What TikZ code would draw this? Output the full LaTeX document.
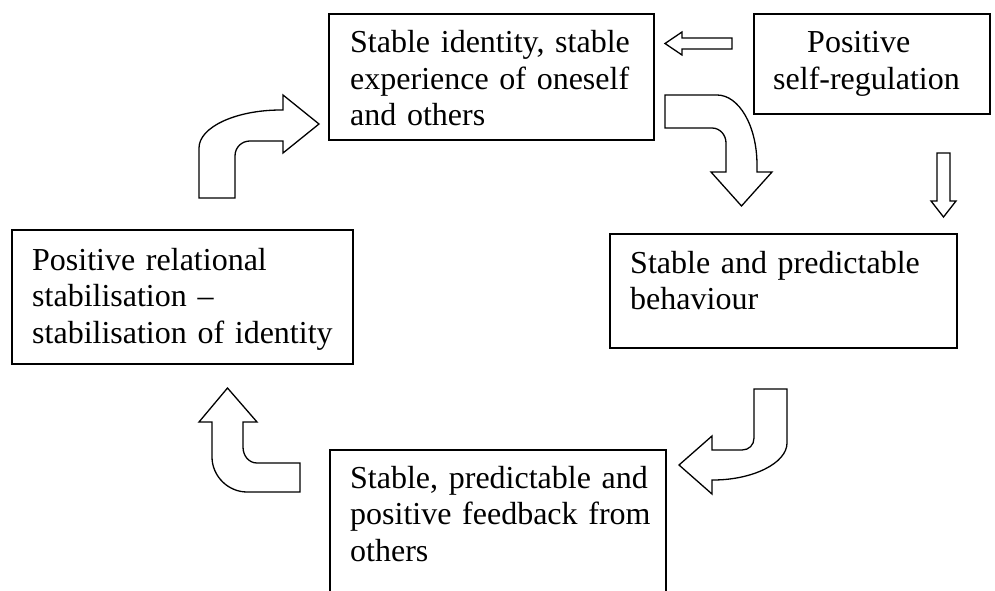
\documentclass[tikz,border=0pt]{standalone}
\usepackage{fontspec}
\setmainfont{Liberation Serif}
\begin{document}
\begin{tikzpicture}[x=1pt,y=-1pt,
  box/.style={draw=black,line width=1.6pt,inner sep=0pt,anchor=north west},
  txt/.style={inner sep=0pt,anchor=base west,text width=420pt,align=left,
    font=\fontsize{32}{36.5}\selectfont},
  blockarrow/.style={draw=black,line width=1.3pt,fill=white,line join=miter}]
\useasboundingbox (0,0) rectangle (995,591);
% boxes
\node[box,minimum width=325pt,minimum height=126pt] (b1) at (328,13) {};
\node[box,minimum width=236pt,minimum height=100pt] (b2) at (753,13) {};
\node[box,minimum width=347pt,minimum height=114pt] (b3) at (609,233) {};
\node[box,minimum width=341pt,minimum height=134pt] (b4) at (11,229) {};
\begin{scope}
\clip (0,0) rectangle (995,591);
\node[box,minimum width=336pt,minimum height=190pt] (b5) at (329,449) {};
\end{scope}
% texts
\node[txt] (t1) at (350,53) {Stable identity, stable\\experience of oneself\\and others};
\node[txt] (t2) at (773,53) {\hspace*{34pt}Positive\\self-regulation};
\node[txt] (t3) at (630,273) {Stable and predictable\\behaviour};
\node[txt] (t4) at (32,270) {Positive relational\\stabilisation --\\stabilisation of identity};
\node[txt] (t5) at (350,488) {Stable, predictable and\\positive feedback from\\others};
% small left arrow
\draw[blockarrow] (732,38) -- (682,38) -- (682,32) -- (665,43.5) -- (682,55) -- (682,49) -- (732,49) -- cycle;
% small down arrow
\draw[blockarrow] (937,153) -- (950,153) -- (950,201) -- (956,201) -- (943.5,217) -- (931,201) -- (937,201) -- cycle;
% top-left curved arrow (up, then right)
\draw[blockarrow] (199,198) -- (199,148) .. controls (199,127) and (236,110) .. (281,110) -- (283,110)
  -- (283,95) -- (319,124) -- (283,153) -- (283,141) -- (250,141)
  .. controls (242,141) and (235,147) .. (235,156) -- (235,198) -- cycle;
% top-right curved arrow (right, then down)
\draw[blockarrow] (665,95) -- (717,95) .. controls (739,95) and (757,126) .. (757,165) -- (757,172)
  -- (772,172) -- (741.5,206) -- (711,172) -- (726,172) -- (726,143)
  .. controls (726,135) and (720,128) .. (712,128) -- (665,128) -- cycle;
% bottom-right J arrow (down, then left)
\draw[blockarrow] (754,389) -- (787,389) -- (787,443) .. controls (787,463) and (753,480) .. (713,480)
  -- (712,480) -- (712,494) -- (679,465) -- (712,436) -- (712,450) -- (742,450)
  .. controls (749,450) and (754,445) .. (754,438) -- cycle;
% bottom-left arrow (left, then up)
\draw[blockarrow] (300,463) -- (257,463) .. controls (249,463) and (243,456) .. (243,447) -- (243,422)
  -- (257,422) -- (227.5,388) -- (199,422) -- (212,422) -- (212,457)
  .. controls (212,476) and (228,492) .. (247,492) -- (300,492) -- cycle;
\end{tikzpicture}
\end{document}
